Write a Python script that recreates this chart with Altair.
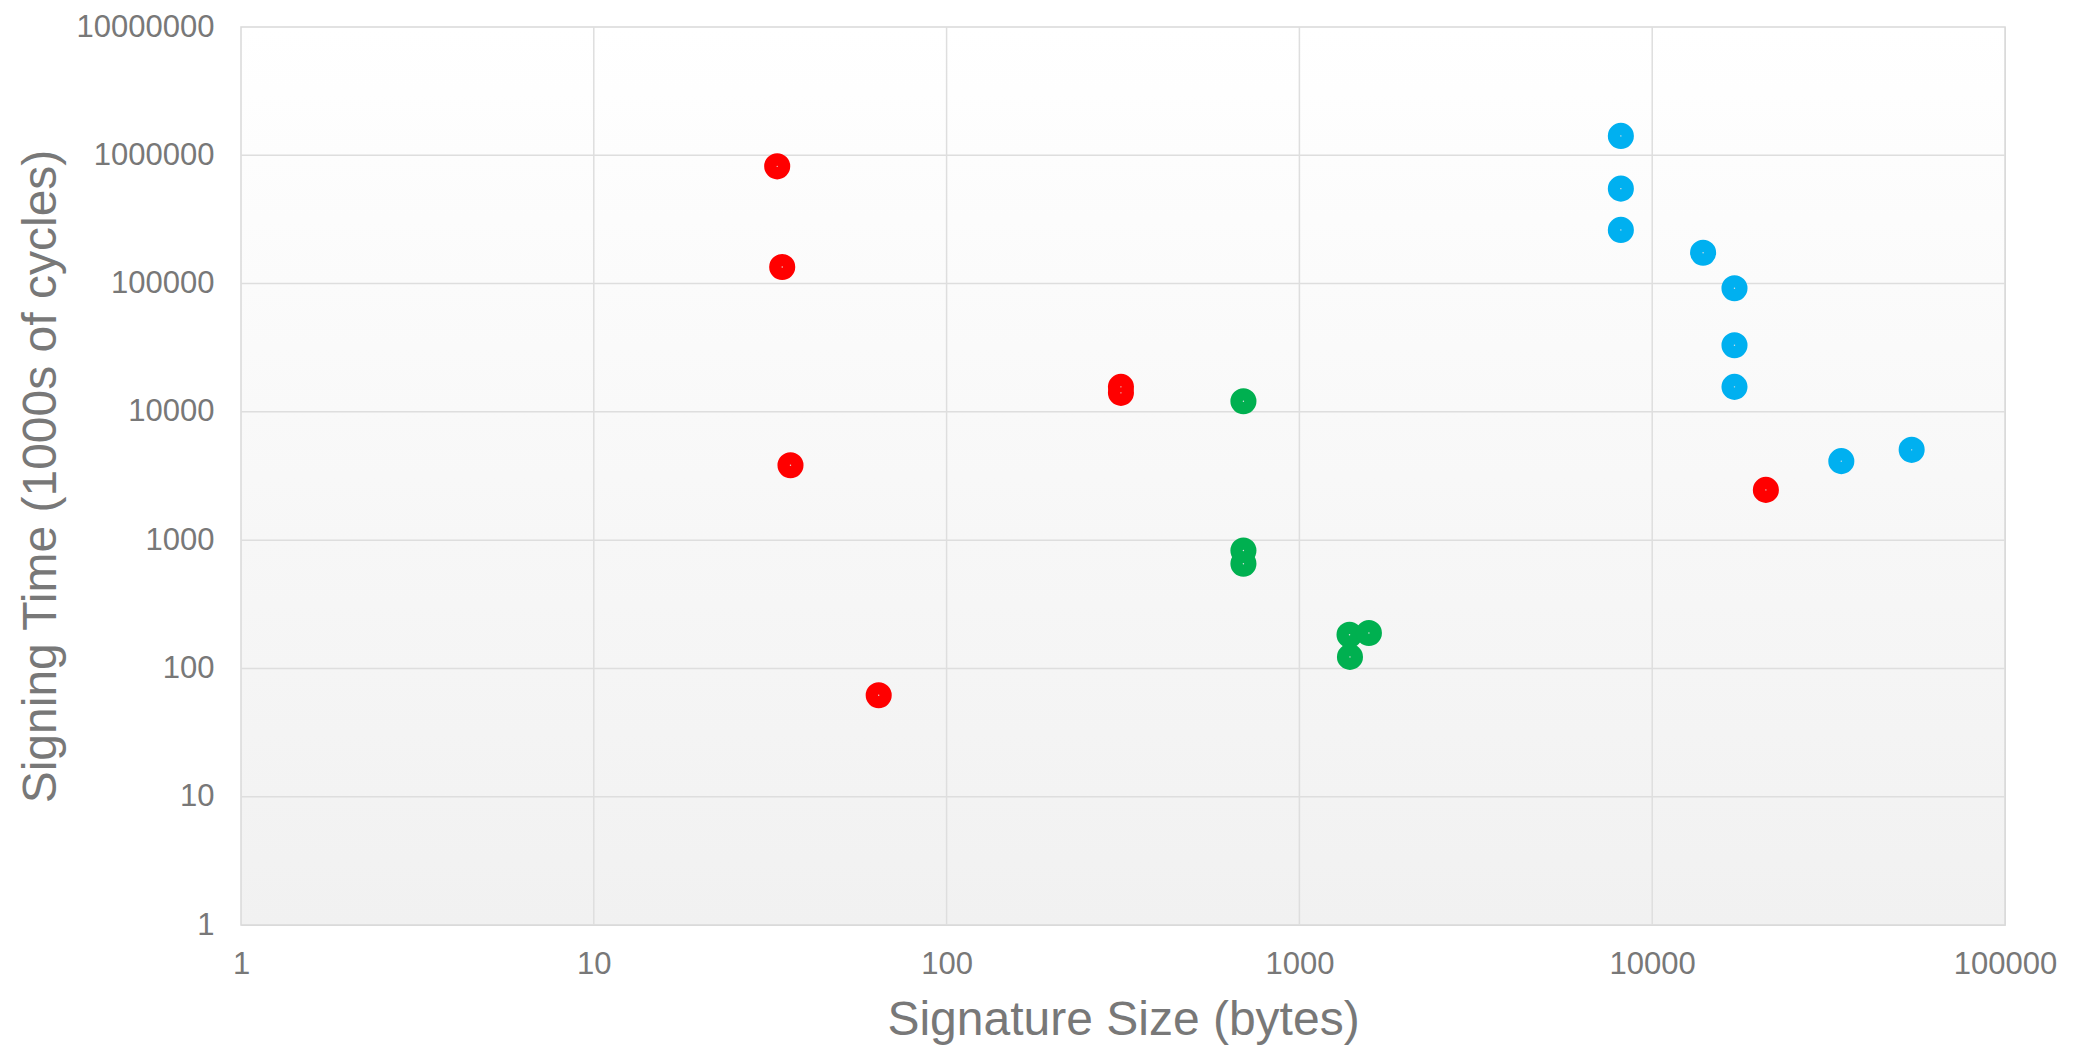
import altair as alt
import pandas as pd

# ---- data ----
red_size = [33.1, 34.2, 36.1, 64.2, 312, 312, 21000]
red_time = [820000, 134500, 3830, 61.8, 15660, 14070, 2465]

green_size = [694, 694, 694, 1387, 1574, 1391]
green_time = [12110, 830, 655, 183, 189, 123]

blue_size = [8150, 8150, 8150, 13940, 17110, 17110, 17110, 34360, 54380]
blue_time = [1416000, 549500, 262000, 173800, 92000, 33100, 15660, 4130, 5057]

series_names = ["Red series", "Green series", "Blue series"]
series_colors = ["#FF0000", "#00B050", "#00B0F0"]

x_ticks = [1, 10, 100, 1000, 10000, 100000]
y_ticks = [1, 10, 100, 1000, 10000, 100000, 1000000, 10000000]

rows = []
for name, xs, ys in zip(series_names,
                        [red_size, green_size, blue_size],
                        [red_time, green_time, blue_time]):
    for a, b in zip(xs, ys):
        rows.append({"series": name, "size": a, "time": b})
points_df = pd.DataFrame(rows)

W, H = 1764, 898
FONT = "Liberation Sans"
TXT = "#787878"
GRID = "#dedede"

x_scale = alt.Scale(type="log", domain=[x_ticks[0], x_ticks[-1]], nice=False)
y_scale = alt.Scale(type="log", domain=[y_ticks[0], y_ticks[-1]], nice=False)

x_axis = alt.Axis(
    values=x_ticks, format="d", grid=False, ticks=False, domain=False,
    labelFont=FONT, labelFontSize=31, labelColor=TXT, labelPadding=24,
    labelFlush=False, labelOverlap=False,
    title="Signature Size (bytes)", titleFont=FONT, titleFontSize=48,
    titleFontWeight="normal", titleColor=TXT, titleX=W / 2, titleY=109,
    titleAlign="center", titleBaseline="alphabetic",
)
y_axis = alt.Axis(
    values=y_ticks, format="d", grid=False, ticks=False, domain=False,
    labelFont=FONT, labelFontSize=31, labelColor=TXT, labelPadding=27,
    labelFlush=False, labelOverlap=False, labelBaseline="middle",
    title="Signing Time (1000s of cycles)", titleFont=FONT, titleFontSize=48,
    titleFontWeight="normal", titleColor=TXT, titleX=-186, titleY=H / 2,
    titleAngle=270, titleAlign="center", titleBaseline="alphabetic",
)

# background gradient panel
bg = alt.Chart(alt.Data(values=[{}])).mark_rect(
    color=alt.LinearGradient(
        gradient="linear",
        stops=[alt.GradientStop(color="#ffffff", offset=0),
               alt.GradientStop(color="#f1f1f1", offset=1)],
        x1=0, x2=0, y1=0, y2=1,
    ),
    stroke="#d9d9d9", strokeWidth=1.5,
).encode(x=alt.value(0), x2=alt.value(W), y=alt.value(0), y2=alt.value(H))

vgrid = alt.Chart(pd.DataFrame({"size": x_ticks[1:-1]})).mark_rule(
    color=GRID, strokeWidth=1.5
).encode(x=alt.X("size:Q", scale=x_scale, axis=x_axis))

hgrid = alt.Chart(pd.DataFrame({"time": y_ticks[1:-1]})).mark_rule(
    color=GRID, strokeWidth=1.5
).encode(y=alt.Y("time:Q", scale=y_scale, axis=y_axis))

base = alt.Chart(points_df)
pts = base.mark_circle(size=680, opacity=1).encode(
    x=alt.X("size:Q", scale=x_scale, axis=x_axis),
    y=alt.Y("time:Q", scale=y_scale, axis=y_axis),
    color=alt.Color("series:N",
                    scale=alt.Scale(domain=series_names, range=series_colors),
                    legend=None),
)
dots = base.mark_circle(size=2, opacity=1, color="#e0e0e0").encode(
    x=alt.X("size:Q", scale=x_scale, axis=x_axis),
    y=alt.Y("time:Q", scale=y_scale, axis=y_axis),
)

chart = alt.layer(bg, vgrid, hgrid, pts, dots).properties(
    width=W, height=H,
    autosize=alt.AutoSizeParams(type="none"),
    padding={"left": 233, "top": 19, "right": 68, "bottom": 121},
).configure_view(strokeWidth=0).configure(background="#ffffff")

chart.save("out.html", embed_options={"renderer": "svg", "actions": False})
